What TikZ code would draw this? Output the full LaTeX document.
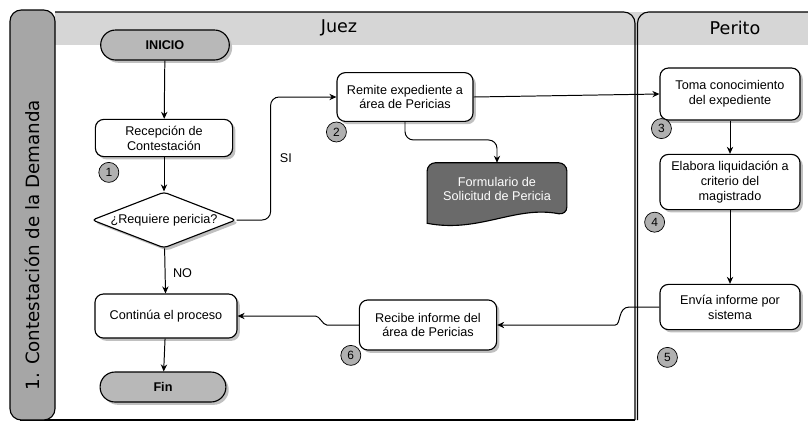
\documentclass[tikz,border=0pt]{standalone}
\usepackage{fontspec}
\setmainfont{Liberation Sans}
\newfontfamily\lanefont{DejaVu Sans}
\usetikzlibrary{arrows.meta,shapes.geometric,shapes.misc,shadows}
\definecolor{LaneGray}{HTML}{D6D6D6}
\definecolor{BandGray}{HTML}{A6A6A6}
\definecolor{TermGray}{HTML}{B8B8B8}
\definecolor{DocGray}{HTML}{6A6A6A}
\definecolor{StepGray}{HTML}{B0B0B0}
\definecolor{ShadowGray}{HTML}{C0C0C0}

\tikzset{
  boxshadow/.style={drop shadow={fill=ShadowGray,opacity=1,shadow xshift=2pt,shadow yshift=-2pt}},
  proc/.style={draw,line width=.8pt,rounded corners=6pt,fill=white,align=center,
    font=\fontsize{9}{10.6}\selectfont,boxshadow},
  term/.style={draw,line width=.8pt,rounded rectangle,fill=TermGray,
    font=\bfseries\fontsize{9}{10.6}\selectfont,minimum width=3.45cm,minimum height=.75cm,boxshadow},
  decis/.style={draw,line width=.8pt,diamond,aspect=2.65,rounded corners=2.5pt,fill=white,inner sep=0pt,
    minimum width=3.6cm,minimum height=1.4cm,font=\fontsize{9}{10.6}\selectfont,boxshadow},
  stepnum/.style={circle,draw,line width=.5pt,fill=StepGray,inner sep=0pt,minimum size=.5cm,
    font=\fontsize{8.5}{9}\selectfont},
  conn/.style={line width=.7pt,rounded corners=6pt,-{Stealth[length=5pt,width=4.5pt]}},
  wavy/.style={line width=.7pt,-{Stealth[length=5pt,width=4.5pt]}},
  lbl/.style={font=\fontsize{9}{10}\selectfont},
  lanehdr/.style={font=\lanefont\fontsize{12.5}{14}\selectfont},
  frame/.style={line width=.8pt}
}

\begin{document}
\begin{tikzpicture}[x=0.025cm,y=-0.025cm]
\useasboundingbox (0,0) rectangle (808,424);

% lanes
\fill[LaneGray] (55,12) rectangle (808,45);
\draw[frame,rounded corners=8pt] (55,12) -- (635,12) -- (635,420);
\draw[frame] (635,420) -- (20,420);
\draw[frame,rounded corners=8pt] (637.5,420) -- (637.5,12) -- (815,12);
\draw[frame,fill=BandGray,rounded corners=8pt] (10,10) rectangle (55,420);
\node[rotate=90,font=\lanefont\fontsize{13}{15}\selectfont] (lanetitle) at (32,245) {1. Contestación de la Demanda};
\node[lanehdr] (juezhdr) at (339,28) {Juez};
\node[lanehdr] (peritohdr) at (735,28) {Perito};

% Juez
\node[term] (inicio) at (165,45) {INICIO};
\node[proc,minimum width=3.43cm,minimum height=.93cm] (recep) at (164,138) {Recepción de\\Contestación};
\node[decis] (dec) at (164,220) {¿Requiere pericia?};
\node[proc,minimum width=3.55cm,minimum height=1.1cm] (cont) at (166,316) {Continúa el proceso};
\node[term,minimum width=3.38cm] (fin) at (163,387) {Fin};
\node[proc,minimum width=3.4cm,minimum height=1.22cm] (remite) at (405,97) {Remite expediente a\\área de Pericias};
\node[proc,minimum width=3.43cm,minimum height=1.25cm] (recibe) at (428,325) {Recibe informe del\\área de Pericias};

% formulario (documento)
\node[align=center,minimum width=3.48cm,minimum height=1.3cm,
  font=\fontsize{9}{10.6}\selectfont] (form) at (497,189) {};
\fill[ShadowGray,xshift=2pt,yshift=-2pt,rounded corners=6pt] ([yshift=-.2cm]form.south west) -- (form.north west)
  -- (form.north east) -- (form.south east) [sharp corners]
  .. controls +(-1.3cm,.25cm) and +(1.3cm,-.25cm) .. ([yshift=-.2cm]form.south west) -- cycle;
\filldraw[frame,fill=DocGray,rounded corners=6pt] ([yshift=-.2cm]form.south west) -- (form.north west)
  -- (form.north east) -- (form.south east) [sharp corners]
  .. controls +(-1.3cm,.25cm) and +(1.3cm,-.25cm) .. ([yshift=-.2cm]form.south west) -- cycle;
\node[align=center,text=white,font=\fontsize{9}{10.6}\selectfont] (formtext) at (form) {Formulario de\\Solicitud de Pericia};

% Perito
\node[proc,minimum width=3.5cm,minimum height=1.3cm] (toma) at (730,94) {Toma conocimiento\\del expediente};
\node[proc,minimum width=3.5cm,minimum height=1.38cm] (elab) at (730,182) {Elabora liquidación a\\criterio del\\magistrado};
\node[proc,minimum width=3.5cm,minimum height=1.13cm] (envia) at (730,307) {Envía informe por\\sistema};

% pasos
\node[stepnum] (s1) at ([xshift=.35cm,yshift=-.38cm]recep.south west) {1};
\node[stepnum] (s2) at ([yshift=-.25cm]remite.south west) {2};
\node[stepnum] (s3) at ([xshift=.05cm,yshift=-.2cm]toma.south west) {3};
\node[stepnum] (s4) at ([xshift=-.12cm,yshift=-.3cm]elab.south west) {4};
\node[stepnum] (s5) at ([xshift=.2cm,yshift=-.68cm]envia.south west) {5};
\node[stepnum] (s6) at ([xshift=-.2cm,yshift=-.12cm]recibe.south west) {6};

% flujo
\draw[conn] (inicio) -- (recep);
\draw[conn] (recep) -- (dec);
\draw[conn] (dec.east) -- ++(.85cm,0) |- node[lbl,pos=.25,right=3pt] {SI} (remite.west);
\draw[conn] (dec) -- node[lbl,pos=.55,right=2pt] {NO} (cont);
\draw[conn] (cont) -- (fin);
\draw[conn] (remite.east) -- (toma.west);
\draw[conn] (remite.south) -- ++(0,-.45cm) -| (form.north);
\draw[conn] (toma) -- (elab);
\draw[conn] (elab) -- (envia);
\draw[wavy] (envia.west) -- ++(-.75cm,0) .. controls +(-.3cm,0) and +(.15cm,0) .. ([xshift=2.95cm]recibe.east) -- (recibe.east);
\draw[wavy] (recibe.west) -- ++(-.8cm,0) .. controls +(-.1cm,0) and +(.1cm,0) .. ([xshift=1.95cm]cont.east) -- (cont.east);
\end{tikzpicture}
\end{document}
